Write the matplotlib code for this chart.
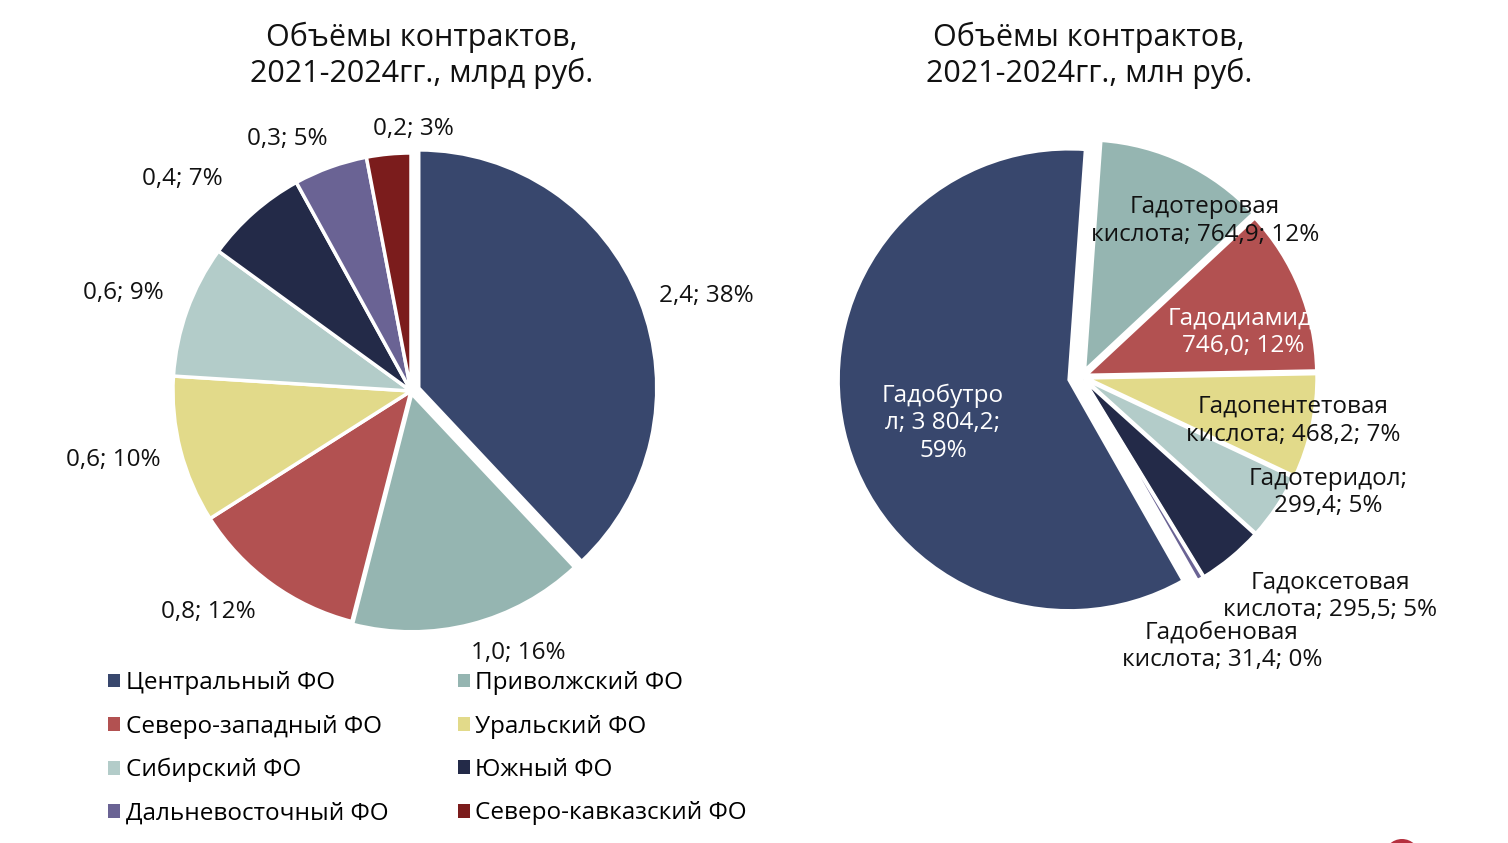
import matplotlib.pyplot as plt
from matplotlib.patches import Circle, Patch

plt.rcParams['font.family'] = ['Open Sans', 'DejaVu Sans']

# === DATA: left chart (federal districts, bn rub) ===
districts = ["Центральный ФО", "Приволжский ФО", "Северо-западный ФО", "Уральский ФО",
             "Сибирский ФО", "Южный ФО", "Дальневосточный ФО", "Северо-кавказский ФО"]
district_values = [2.4, 1.0, 0.8, 0.6, 0.6, 0.4, 0.3, 0.2]
district_shares = [38, 16, 12, 10, 9, 7, 5, 3]

# === DATA: right chart (contrast agents, mn rub) ===
drugs = ["Гадобутрол", "Гадотеровая кислота", "Гадодиамид", "Гадопентетовая кислота",
         "Гадотеридол", "Гадоксетовая кислота", "Гадобеновая кислота"]
drug_values = [3804.2, 764.9, 746.0, 468.2, 299.4, 295.5, 31.4]
drug_shares = [59, 12, 12, 7, 5, 5, 0]

# line breaks as in the original labels
drug_label_fmt = [
    "Гадобутро\nл; {v};\n{p}%",
    "Гадотеровая\nкислота; {v}; {p}%",
    "Гадодиамид;\n{v}; {p}%",
    "Гадопентетовая\nкислота; {v}; {p}%",
    "Гадотеридол;\n{v}; {p}%",
    "Гадоксетовая\nкислота; {v}; {p}%",
    "Гадобеновая\nкислота; {v}; {p}%",
]

# === STYLE ===
c_blue = "#38476d"
c_teal = "#95b5b1"
c_red = "#b25151"
c_yellow = "#e2da8a"
c_light = "#b3ccc9"
c_navy = "#232a48"
c_purple = "#6a6394"
c_maroon = "#7b1c1c"

district_colors = [c_blue, c_teal, c_red, c_yellow, c_light, c_navy, c_purple, c_maroon]
drug_colors = [c_blue, c_teal, c_red, c_yellow, c_light, c_navy, c_purple]
drug_text_colors = ["white", "#111111", "white", "#111111", "#111111", "#111111", "#111111"]

# label positions, in pie radius units from the centre
district_label_pos = [(1.24, 0.40), (0.45, -1.10), (-0.85, -0.93), (-1.25, -0.29),
                      (-1.21, 0.41), (-0.96, 0.89), (-0.52, 1.06), (0.01, 1.10)]
drug_label_pos = [(-0.60, -0.20), (0.535, 0.675), (0.70, 0.195), (0.915, -0.19),
                  (1.067, -0.50), (1.076, -0.948), (0.608, -1.165)]

LABEL_FS = 17.5
TITLE_FS = 22
LEGEND_FS = 17.5


def ru_num(x):
    return f"{x:,.1f}".replace(",", " ").replace(".", ",")


W, H = 1508, 843
fig = plt.figure(figsize=(W / 100, H / 100), dpi=100)
LIM = 1.5


def pie_axes(cx, cy, r):
    size = 2 * LIM * r
    ax = fig.add_axes([(cx - size / 2) / W, (H - cy - size / 2) / H, size / W, size / H])
    return ax


def fix_limits(ax):
    # pie() resets the limits, so set them afterwards
    ax.set_xlim(-LIM, LIM)
    ax.set_ylim(-LIM, LIM)
    ax.set_aspect("equal")
    ax.axis("off")


# =========================
# LEFT PIE
# =========================
ax1 = pie_axes(411, 391, 238)
wedges1, _ = ax1.pie(district_shares, colors=district_colors, startangle=90, counterclock=False,
                     explode=[0.035, 0.012, 0, 0, 0, 0, 0, 0],
                     wedgeprops=dict(edgecolor="white", linewidth=2.5))
fix_limits(ax1)
for v, p, (x, y) in zip(district_values, district_shares, district_label_pos):
    ax1.text(x, y, f"{ru_num(v)}; {p}%", ha="center", va="center", fontsize=LABEL_FS,
             color="#111111")

fig.text(422 / W, 1 - 55 / H, "Объёмы контрактов,\n2021-2024гг., млрд руб.",
         ha="center", va="center", fontsize=TITLE_FS, color="#111111", linespacing=1.2)

# legend, filled row by row like the original
order = [0, 2, 4, 6, 1, 3, 5, 7]
handles = [Patch(facecolor=district_colors[i], label=districts[i]) for i in order]
fig.legend(handles=handles, ncol=2, loc="upper left", bbox_to_anchor=(96 / W, 1 - 659 / H),
           frameon=False, fontsize=LEGEND_FS, handlelength=0.5, handleheight=0.5,
           handletextpad=0.22, columnspacing=2.85, labelspacing=0.80, borderpad=0)

# =========================
# RIGHT PIE
# =========================
ax2 = pie_axes(1081.5, 377, 231)
wedges2, _ = ax2.pie(drug_values, colors=drug_colors, startangle=-60.4, counterclock=False,
                     explode=[0.055, 0.03, 0.02, 0.02, 0.015, 0.015, 0.015],
                     wedgeprops=dict(edgecolor="white", linewidth=2.5))
fix_limits(ax2)
for fmt, v, p, (x, y), tc in zip(drug_label_fmt, drug_values, drug_shares, drug_label_pos,
                                 drug_text_colors):
    ax2.text(x, y, fmt.format(v=ru_num(v), p=p), ha="center", va="center", fontsize=LABEL_FS,
             color=tc, linespacing=1.2)

fig.text(1089 / W, 1 - 55 / H, "Объёмы контрактов,\n2021-2024гг., млн руб.",
         ha="center", va="center", fontsize=TITLE_FS, color="#111111", linespacing=1.2)

# small logo fragment at the bottom edge
fig.patches.append(Circle((1402, -14), 18, transform=None, facecolor="#b5303f",
                          edgecolor="none"))

fig.savefig("out.png", dpi=100)
